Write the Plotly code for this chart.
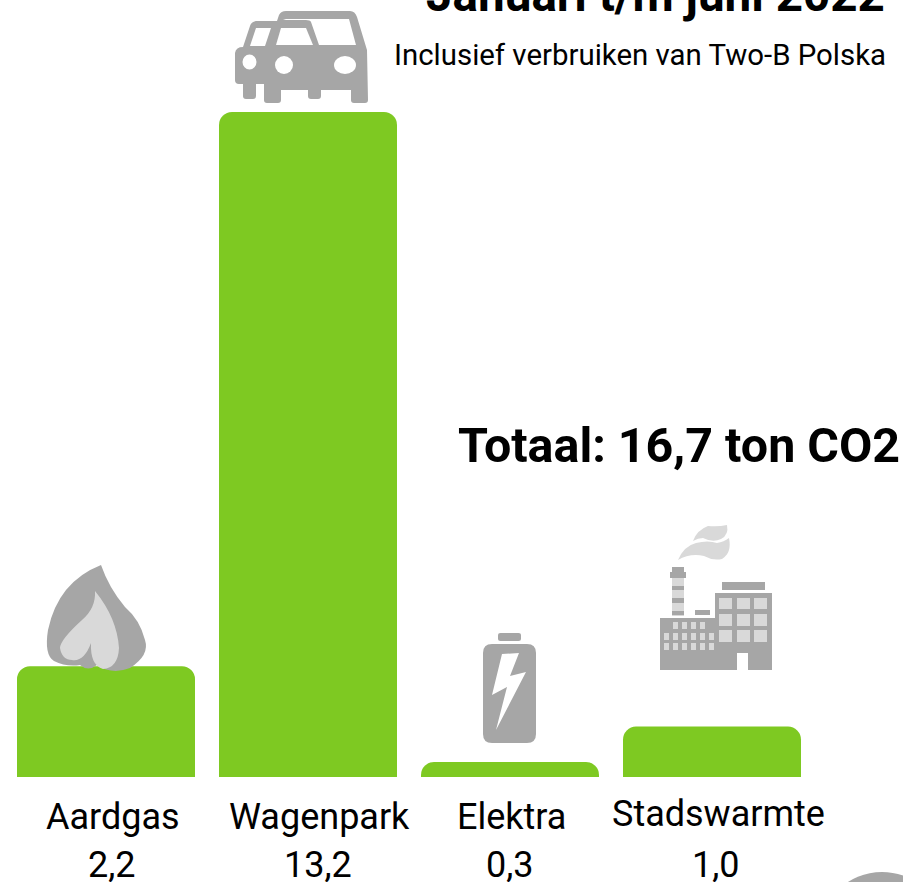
import re
import plotly.graph_objects as go

categories = ["Aardgas", "Wagenpark", "Elektra", "Stadswarmte"]
values = [2.2, 13.2, 0.3, 1.0]
title_text = "Januari t/m juni 2022"
subtitle_text = "Inclusief verbruiken van Two-B Polska"
total_text = "Totaal: 16,7 ton CO2"

W, H = 903, 882
GREEN, DARK, LIGHT = "#7ec922", "#a6a6a6", "#d9d9d9"
FONT = "Roboto"

def px(x): return x / W
def py(y): return (H - y) / H

def path(d):
    """Absolute M/L/C/Q/Z path written in page pixels -> paper coordinates."""
    tok = re.findall(r"[MLCQZ]|-?[\d.]+", d)
    out, i = [], 0
    while i < len(tok):
        t = tok[i]
        if t.isalpha():
            out.append(t); i += 1
        else:
            out.append(f"{px(float(t)):.5f},{py(float(tok[i+1])):.5f}"); i += 2
    return " ".join(out)

shapes = []
def add(d, color):
    shapes.append(dict(type="path", xref="paper", yref="paper", path=path(d),
                       fillcolor=color, line_width=0, layer="above"))

def rect(x0, y0, x1, y1, color):
    shapes.append(dict(type="rect", xref="paper", yref="paper", x0=px(x0), x1=px(x1),
                       y0=py(y0), y1=py(y1), fillcolor=color, line_width=0, layer="above"))

def rrect(x0, y0, x1, y1, r, color):
    add(f"M {x0+r} {y0} L {x1-r} {y0} Q {x1} {y0} {x1} {y0+r} L {x1} {y1-r} Q {x1} {y1} {x1-r} {y1} "
        f"L {x0+r} {y1} Q {x0} {y1} {x0} {y1-r} L {x0} {y0+r} Q {x0} {y0} {x0+r} {y0} Z", color)

def ellipse(cx, cy, rx, ry, color):
    shapes.append(dict(type="circle", xref="paper", yref="paper", x0=px(cx-rx), x1=px(cx+rx),
                       y0=py(cy-ry), y1=py(cy+ry), fillcolor=color, line_width=0, layer="above"))

# --- car icon
add("M 286 11 L 350 11 Q 355 11 357 17 L 367 50 L 368 100 Q 368 103 365 103 L 354 103 Q 351 103 351 100 "
    "L 351 90 L 321 90 L 321 96 Q 321 99 318 99 L 311 99 Q 308 99 308 96 L 308 90 L 281 90 L 281 100 "
    "Q 281 103 278 103 L 267 103 Q 264 103 264 100 L 264 84 L 256 84 L 256 96 Q 256 99 253 99 L 246 99 "
    "Q 243 99 243 96 L 243 84 L 239 84 Q 235 84 235 80 L 235 53 Q 236 47 243 47 L 250 26 Q 251 22 256 21 "
    "L 277 21 L 279 15 Q 281 11 286 11 Z", DARK)
add("M 286 19 L 349 19 L 356 45 L 319 45 L 311 22 Q 310 20 306 20 L 283 20 Z", "white")
add("M 256 28 L 271 28 L 265 46 L 250 46 Z", "white")
add("M 281 28 L 306 28 L 313 45 L 276 45 Z", "white")
ellipse(249.5, 62, 7, 7.5, "white")
ellipse(284, 65, 9, 9, "white")
ellipse(345, 65, 11, 9, "white")

# --- flame icon
add("M 101 565 Q 58 582 48 630 Q 44 655 54 661 Q 66 667 80 665 Q 88 672 97 665 Q 112 675 130 668 "
    "Q 150 655 145 640 Q 140 620 125 607 Q 109 588 101 565 Z", DARK)
add("M 95 591 Q 96 608 82 620 Q 60 640 60 648 Q 62 660 72 660 Q 84 662 91 643 Q 90 665 103 669 "
    "Q 118 668 119 648 Q 117 618 95 591 Z", LIGHT)

# --- battery icon
rrect(498, 633, 521, 641, 2.5, DARK)
rrect(483, 644, 536, 743, 9, DARK)
add("M 502 654 L 519 653 L 510 676 L 526 672 L 496 730 L 507 687 L 492 695 Z", "white")

# --- factory icon
add("M 727 525 Q 729 535 721 539 Q 713 543 703 538 Q 698 538 693 541 Q 697 530 708 526 Q 718 527 727 525 Z", LIGHT)
add("M 678 560 Q 684 546 696 543 Q 708 540 717 543 Q 724 542 729 538 Q 732 553 722 559 Q 713 561 704 556 Q 690 553 678 560 Z", LIGHT)
rect(672, 567, 684, 572, DARK)
rect(670, 572, 686, 578, DARK)
rect(672, 578, 684, 616, LIGHT)
for y0, y1 in [(586, 590), (598, 603), (611, 615)]:
    rect(672, y0, 684, y1, DARK)
rect(695, 610, 710, 615, DARK)
rect(722, 582, 765, 590, DARK)
rect(660, 618, 716, 670, DARK)
rect(715, 593, 772, 670, DARK)
rect(737, 653, 748, 670, "white")
for x0, x1 in [(719, 732), (737, 750), (754, 767)]:
    for y0, y1 in [(598, 609), (614, 626), (630, 642)]:
        rect(x0, y0, x1, y1, LIGHT)
for x0 in [673, 682, 691, 700]:
    rect(x0, 622, x0 + 5, 629, LIGHT)
for x0 in [664, 673, 682, 691, 700, 709]:
    rect(x0, 633, x0 + 5, 640, LIGHT)
    rect(x0, 643, x0 + 5, 650, LIGHT)

# --- partly visible circle at the page corner
ellipse(882, 935, 63, 63, DARK)

# --- bars
fig = go.Figure(go.Bar(x=categories, y=values, width=178 / 202,
                       marker=dict(color=GREEN, cornerradius=13, line_width=0),
                       hoverinfo="skip"))

def note(x, y, text, size, bold=False, anchor="center"):
    return dict(xref="paper", yref="paper", x=px(x), y=py(y), text=f"<b>{text}</b>" if bold else text,
                showarrow=False, xanchor=anchor, yanchor="middle", align=anchor,
                font=dict(family=FONT, size=size, color="black"), borderpad=0)

name_xy = [(113, 816.5), (319, 816.5), (511, 816.5), (718, 814)]
value_xy = [(112, 865), (318, 865), (510, 865), (716, 865)]
annotations = [
    note(886, -5, title_text, 47.6, True, "right"),
    note(886.5, 54.5, subtitle_text, 29.4, False, "right"),
    note(901, 445, total_text, 48.4, True, "right"),
]
for c, v, a, b in zip(categories, values, name_xy, value_xy):
    annotations.append(note(*a, c, 36))
    annotations.append(note(*b, f"{v:.1f}".replace(".", ","), 36))

scale = 665 / 13.2
fig.update_layout(
    width=W, height=H, margin=dict(l=0, r=0, t=0, b=0), autosize=False,
    paper_bgcolor="white", plot_bgcolor="white", showlegend=False,
    shapes=shapes, annotations=annotations, font=dict(family=FONT),
    xaxis=dict(type="category", range=[-106 / 202, (W - 106) / 202], visible=False, fixedrange=True),
    yaxis=dict(range=[-(H - 777) / scale, 777 / scale], visible=False, fixedrange=True),
)
fig.write_html("out.html", config=dict(displayModeBar=False),
               post_script="document.body.style.margin='0';document.documentElement.style.overflow='hidden';")
